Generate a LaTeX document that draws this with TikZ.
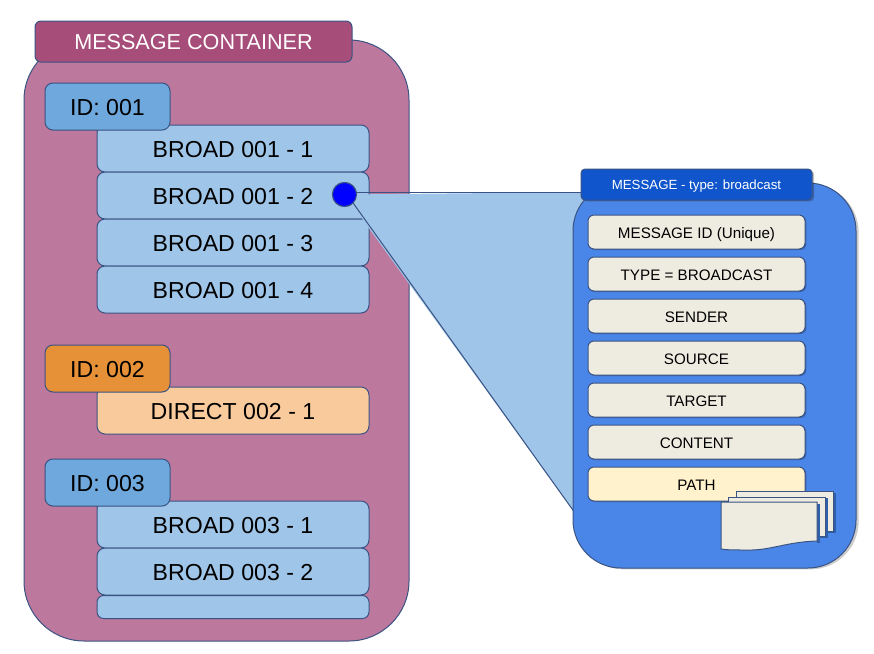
\documentclass[tikz,border=0pt]{standalone}
\usepackage{fontspec}
\setmainfont{Liberation Sans}
\usetikzlibrary{shadows}
\definecolor{edge}{HTML}{3A5383}
\definecolor{contbg}{HTML}{BD789D}
\definecolor{conttitle}{HTML}{A64D79}
\definecolor{idblue}{HTML}{6FA8DC}
\definecolor{itemblue}{HTML}{9FC5E8}
\definecolor{idorange}{HTML}{E69138}
\definecolor{itemorange}{HTML}{F9CB9C}
\definecolor{panelblue}{HTML}{4A86E8}
\definecolor{paneltitle}{HTML}{1155CC}
\definecolor{field}{HTML}{EEECE1}
\definecolor{pathfield}{HTML}{FFF2CC}
\definecolor{docshadow}{HTML}{2F5FA8}
\tikzset{
  base/.style={draw=edge,line width=0.75pt,inner sep=0pt,text depth=0pt,align=center},
  bigtext/.style={font=\fontsize{17.35}{20}\selectfont,text height=13.6pt},
  container/.style={base,fill=contbg,rounded corners=45pt,minimum width=288.75pt,minimum height=450.75pt},
  conttitlebox/.style={base,fill=conttitle,text=white,rounded corners=4.5pt,minimum width=237.75pt,minimum height=30.75pt,font=\fontsize{16.2}{20}\selectfont,text height=11.6pt},
  idbox/.style={base,bigtext,rounded corners=6pt,minimum width=93.75pt,minimum height=35.25pt},
  msgbox/.style={base,bigtext,rounded corners=6pt,minimum width=204pt,minimum height=35.25pt},
  panel/.style={base,fill=panelblue,rounded corners=36pt,minimum width=212.25pt,minimum height=288.75pt,
    drop shadow={shadow xshift=2pt,shadow yshift=-1pt,fill=black,opacity=0.2}},
  paneltitlebox/.style={base,fill=paneltitle,text=white,rounded corners=3pt,minimum width=173.25pt,minimum height=23.25pt,font=\fontsize{9.95}{12}\selectfont,text height=7.2pt,
    drop shadow={shadow xshift=1.5pt,shadow yshift=-1pt,fill=black,opacity=0.25}},
  fieldbox/.style={base,rounded corners=4.5pt,minimum width=162.75pt,minimum height=25.5pt,font=\fontsize{11.4}{14}\selectfont,text height=9.2pt,
    drop shadow={shadow xshift=1pt,shadow yshift=-0.75pt,fill=black,opacity=0.25}},
  docsheet/.style={draw=edge,fill=field,line width=0.75pt},
  docback/.style={fill=docshadow,draw=none},
  dot/.style={draw=edge,fill=blue,circle,line width=0.75pt,minimum size=18pt,inner sep=0pt}
}
\begin{document}
\begin{tikzpicture}[x=0.75pt,y=-0.75pt]
\useasboundingbox (0,0) rectangle (874,653);
% left container
\node[container] (cont) at (216.5,340.5) {};
\node[conttitlebox] (conttitle) at (193.5,41.5) {MESSAGE CONTAINER};
\node[msgbox,fill=itemblue] (b11) at (233,148.5) {BROAD 001 - 1};
\node[msgbox,fill=itemblue] (b12) at (233,195.5) {BROAD 001 - 2};
\node[msgbox,fill=itemblue] (b13) at (233,242.5) {BROAD 001 - 3};
\node[msgbox,fill=itemblue] (b14) at (233,289.5) {BROAD 001 - 4};
\node[idbox,fill=idblue] (id1) at (107.5,106.5) {ID: 001};
\node[msgbox,fill=itemorange] (d21) at (233,410.5) {DIRECT 002 - 1};
\node[idbox,fill=idorange] (id2) at (107.5,368.5) {ID: 002};
\node[msgbox,fill=itemblue] (b31) at (233,524.5) {BROAD 003 - 1};
\node[msgbox,fill=itemblue] (b32) at (233,571.5) {BROAD 003 - 2};
\node[base,fill=itemblue,rounded corners=5pt,minimum width=204pt,minimum height=17.25pt] (b33) at (233,607) {};
\node[idbox,fill=idblue] (id3) at (107.5,482.5) {ID: 003};
% callout wedge
\coordinate (wedgetop) at (600,192);
\coordinate (wedgelow) at (580,520);
\node[dot] (dot) at (344.5,194.5) {};
\fill[itemblue] (dot.center) -- (wedgetop) -- (wedgelow) -- cycle;
\draw[edge,line width=0.75pt] (dot.north east |- wedgetop) -- (wedgetop);
\draw[edge,line width=0.75pt] (dot.south east) -- (wedgelow);
\node[dot] at (dot.center) {};
% right panel
\node[panel] (panel) at (714.5,375.5) {};
\node[paneltitlebox] (paneltitle) at (696.5,184.5) {MESSAGE - type: broadcast};
\node[fieldbox,fill=field] (f1) at (696.5,232) {MESSAGE ID (Unique)};
\node[fieldbox,fill=field] (f2) at (696.5,274) {TYPE = BROADCAST};
\node[fieldbox,fill=field] (f3) at (696.5,316) {SENDER};
\node[fieldbox,fill=field] (f4) at (696.5,358) {SOURCE};
\node[fieldbox,fill=field] (f5) at (696.5,400) {TARGET};
\node[fieldbox,fill=field] (f6) at (696.5,442) {CONTENT};
\node[fieldbox,fill=pathfield] (f7) at (696.5,484) {PATH};
% document stack
\fill[docback] (736,493) rectangle (835.5,533);
\draw[docsheet] (736,491.5) -- (833,491.5) -- (833,531) -- (736,531) -- cycle;
\fill[docback] (728,498) rectangle (827.5,538);
\draw[docsheet] (728.5,497) -- (825,497) -- (825,536) -- (728.5,536) -- cycle;
\fill[docback] (817,504) rectangle (819.5,543);
\draw[docsheet] (721,502) -- (817,502) -- (817,541)
  .. controls (785,542) and (770,551) .. (745,550)
  .. controls (735,550) and (727,550) .. (721,549) -- cycle;
\end{tikzpicture}
\end{document}
